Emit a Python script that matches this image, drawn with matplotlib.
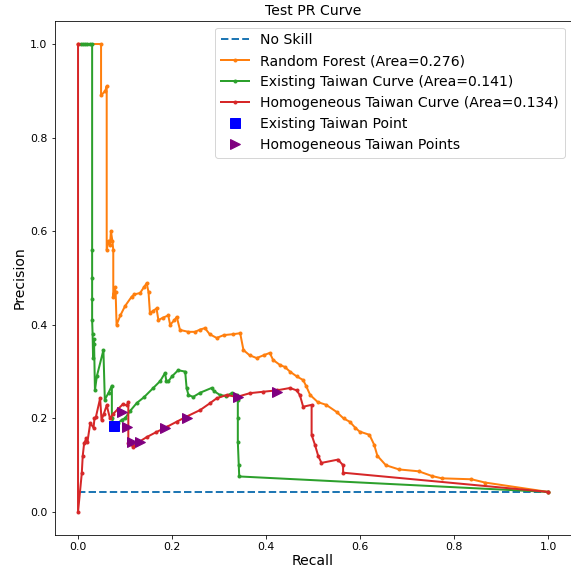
import matplotlib.pyplot as plt

no_skill = 0.043

rf_recall = [0.0, 0.049, 0.049, 0.058, 0.061, 0.061, 0.065, 0.068, 0.070, 0.073, 0.075, 0.075,
             0.078, 0.080, 0.082, 0.090, 0.100, 0.114, 0.120, 0.132, 0.140, 0.146, 0.150, 0.153,
             0.160, 0.167, 0.171, 0.180, 0.192, 0.196, 0.205, 0.210, 0.217, 0.235, 0.249, 0.260,
             0.270, 0.280, 0.295, 0.310, 0.330, 0.345, 0.352, 0.365, 0.380, 0.395, 0.408, 0.415,
             0.430, 0.440, 0.451, 0.465, 0.479, 0.485, 0.494, 0.510, 0.528, 0.550, 0.565, 0.578,
             0.590, 0.599, 0.620, 0.630, 0.637, 0.655, 0.683, 0.725, 0.753, 0.774, 0.837, 0.866, 1.0]
rf_precision = [1.0, 1.0, 0.89, 0.90, 0.91, 0.56, 0.58, 0.57, 0.60, 0.58, 0.56, 0.46,
                0.48, 0.47, 0.40, 0.42, 0.44, 0.46, 0.465, 0.468, 0.48, 0.489, 0.47, 0.425,
                0.43, 0.435, 0.41, 0.415, 0.42, 0.40, 0.41, 0.417, 0.389, 0.385, 0.385, 0.39,
                0.393, 0.38, 0.372, 0.378, 0.38, 0.382, 0.346, 0.335, 0.329, 0.335, 0.34, 0.325,
                0.314, 0.31, 0.30, 0.29, 0.282, 0.27, 0.25, 0.235, 0.229, 0.214, 0.20, 0.193,
                0.18, 0.172, 0.165, 0.144, 0.12, 0.10, 0.091, 0.087, 0.077, 0.072, 0.070, 0.063, 0.043]

ex_recall = [0.006, 0.010, 0.015, 0.020, 0.025, 0.030, 0.030, 0.030, 0.030, 0.030, 0.031, 0.032,
             0.033, 0.034, 0.036, 0.040, 0.054, 0.057, 0.065, 0.072, 0.072, 0.075, 0.085, 0.093,
             0.100, 0.110, 0.125, 0.140, 0.160, 0.175, 0.185, 0.188, 0.192, 0.200, 0.213, 0.228,
             0.231, 0.235, 0.245, 0.260, 0.284, 0.290, 0.302, 0.315, 0.327, 0.338, 0.340, 0.340,
             0.340, 0.342, 0.343, 1.0]
ex_precision = [1.0, 1.0, 1.0, 1.0, 1.0, 1.0, 0.56, 0.50, 0.455, 0.41, 0.38, 0.33,
                0.36, 0.37, 0.26, 0.29, 0.346, 0.24, 0.255, 0.27, 0.20, 0.19, 0.19, 0.197,
                0.20, 0.215, 0.233, 0.245, 0.265, 0.28, 0.297, 0.28, 0.279, 0.29, 0.303, 0.30,
                0.265, 0.25, 0.246, 0.255, 0.265, 0.258, 0.25, 0.248, 0.254, 0.25, 0.239, 0.20,
                0.15, 0.10, 0.076, 0.043]

hom_recall = [0.0, 0.0, 0.008, 0.010, 0.013, 0.018, 0.020, 0.026, 0.033, 0.035, 0.038, 0.047,
              0.050, 0.055, 0.061, 0.068, 0.075, 0.085, 0.095, 0.104, 0.107, 0.107, 0.117, 0.130,
              0.146, 0.165, 0.189, 0.210, 0.231, 0.260, 0.280, 0.295, 0.316, 0.338, 0.366, 0.394,
              0.423, 0.451, 0.465, 0.472, 0.479, 0.497, 0.497, 0.504, 0.511, 0.518, 0.553, 0.564,
              0.564, 1.0]
hom_precision = [1.0, 0.0, 0.083, 0.12, 0.147, 0.158, 0.15, 0.19, 0.18, 0.20, 0.203, 0.243,
                 0.197, 0.21, 0.228, 0.20, 0.21, 0.22, 0.23, 0.228, 0.235, 0.147, 0.14, 0.15,
                 0.16, 0.17, 0.182, 0.193, 0.204, 0.218, 0.232, 0.243, 0.25, 0.246, 0.254, 0.257,
                 0.26, 0.265, 0.26, 0.25, 0.225, 0.229, 0.165, 0.144, 0.12, 0.105, 0.112, 0.10,
                 0.084, 0.043]

ex_point_recall = [0.077]
ex_point_precision = [0.184]

hom_pts_recall = [0.093, 0.105, 0.114, 0.132, 0.185, 0.231, 0.341, 0.423]
hom_pts_precision = [0.214, 0.182, 0.150, 0.150, 0.180, 0.200, 0.246, 0.257]

fig = plt.figure(figsize=(571 / 72, 571 / 72), dpi=72)
ax = fig.add_axes([0.0955, 0.0623, 0.9054, 0.9016])

ax.plot([0, 1], [no_skill, no_skill], linestyle='--', linewidth=2, label='No Skill')
ax.plot(rf_recall, rf_precision, marker='.', linewidth=2, label='Random Forest (Area=0.276)')
ax.plot(ex_recall, ex_precision, marker='.', linewidth=2, label='Existing Taiwan Curve (Area=0.141)')
ax.plot(hom_recall, hom_precision, marker='.', linewidth=2, label='Homogeneous Taiwan Curve (Area=0.134)')
ax.plot(ex_point_recall, ex_point_precision, 's', color='blue', markersize=10,
        label='Existing Taiwan Point')
ax.plot(hom_pts_recall, hom_pts_precision, '>', color='purple', markersize=10,
        label='Homogeneous Taiwan Points')

ax.set_xlim(-0.05, 1.05)
ax.set_ylim(-0.05, 1.05)
ax.tick_params(labelsize=11)
ax.set_xlabel('Recall', fontsize=14, labelpad=2)
ax.set_ylabel('Precision', fontsize=14)
ax.set_title('Test PR Curve', fontsize=14)
ax.legend(loc='upper right', fontsize=14)

fig.savefig('out.png', dpi=72)
